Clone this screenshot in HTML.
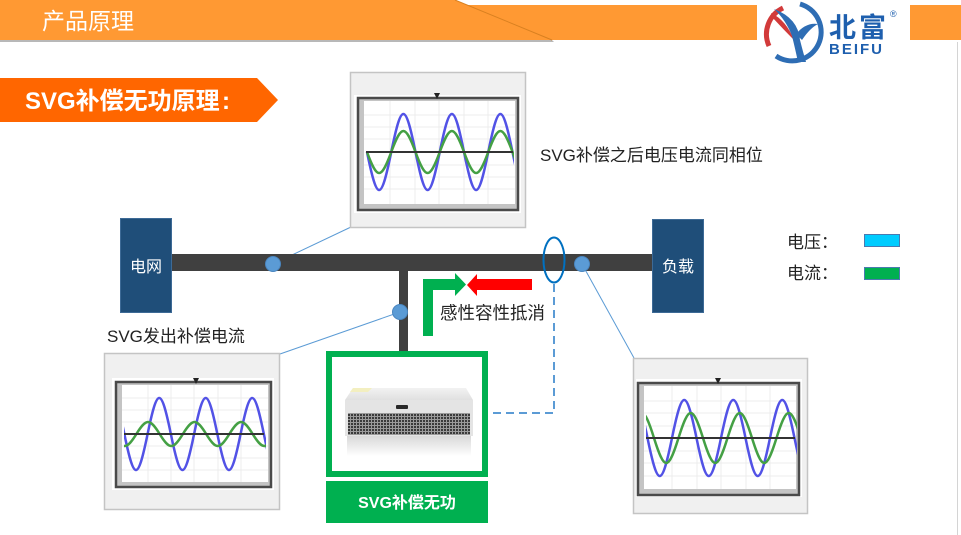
<!DOCTYPE html>
<html><head><meta charset="utf-8">
<style>
html,body{margin:0;padding:0;background:#fff;}
body{width:961px;height:535px;overflow:hidden;position:relative;}
svg{position:absolute;left:0;top:0;}
text{font-family:"Liberation Sans","Noto Sans CJK SC",sans-serif;}
</style></head>
<body>
<svg width="961" height="535" viewBox="0 0 961 535" xmlns="http://www.w3.org/2000/svg">
<defs>
  <clipPath id="c1"><rect x="365" y="96" width="149" height="116"/></clipPath>
  <clipPath id="c2"><rect x="124" y="382" width="142" height="104"/></clipPath>
  <clipPath id="c3"><rect x="646" y="384" width="151" height="110"/></clipPath>
  <pattern id="mesh" width="3" height="3" patternUnits="userSpaceOnUse">
    <rect width="3" height="3" fill="#9a9a9a"/>
    <rect width="2" height="2" fill="#3a3a3a"/>
  </pattern>
  <linearGradient id="refl" x1="0" y1="0" x2="0" y2="1">
    <stop offset="0" stop-color="#d8d8d8"/>
    <stop offset="1" stop-color="#ffffff"/>
  </linearGradient>
  <linearGradient id="topface" x1="0" y1="0" x2="0" y2="1">
    <stop offset="0" stop-color="#f2f2f2"/>
    <stop offset="1" stop-color="#e0e0e0"/>
  </linearGradient>
</defs>

<!-- header bands -->
<rect x="455" y="5" width="506" height="35" fill="#FF9933"/>
<polygon points="0,40 552,40 554,42 0,42" fill="#b8b8b8"/>
<polygon points="0,0 455,0 552,40 0,40" fill="#FF9933"/>
<line x1="455" y1="0" x2="552" y2="40" stroke="#d98020" stroke-width="1"/>
<text x="42" y="29" font-size="23" fill="#ffffff">产品原理</text>

<!-- logo -->
<rect x="757" y="0" width="153" height="72" fill="#ffffff"/>
<path d="M800,4 A29,29 0 1 1 776,56" fill="none" stroke="#2e6db4" stroke-width="5"/>
<path d="M783,8 A29,29 0 0 0 769,46" fill="none" stroke="#d23a3a" stroke-width="5"/>
<path d="M771,13 Q786,20 794,40 Q784,30 772,17 Z" fill="#d23a3a"/>
<path d="M774,9 Q798,18 800,40 Q803,52 806,62 L798,62 Q795,48 792,36 Q786,20 774,9 Z" fill="#2e6db4"/>
<path d="M796,34 Q806,22 818,24 Q810,28 802,40 Z" fill="#2e6db4"/>
<text x="829" y="37" font-size="27" font-weight="bold" fill="#1e5fae" letter-spacing="3">北富</text>
<text x="829" y="54" font-size="15" font-weight="bold" fill="#1e5fae" letter-spacing="2">BEIFU</text>
<text x="890" y="17" font-size="9" fill="#1e5fae">®</text>

<!-- right edge line -->
<line x1="957.5" y1="42" x2="957.5" y2="535" stroke="#d4d4d4" stroke-width="1"/>

<!-- subtitle banner -->
<polygon points="0,78 257,78 278,100 257,122 0,122" fill="#FF6600"/>
<text x="25" y="109" font-size="24" font-weight="bold" fill="#ffffff">SVG补偿无功原理</text>
<text x="222" y="109" font-size="24" font-weight="bold" fill="#ffffff">:</text>

<!-- connectors -->
<line x1="273" y1="264" x2="351" y2="227" stroke="#5B9BD5" stroke-width="1"/>
<line x1="400" y1="312" x2="280" y2="354" stroke="#5B9BD5" stroke-width="1"/>
<line x1="582" y1="264" x2="634" y2="358" stroke="#5B9BD5" stroke-width="1"/>

<!-- ===== top chart ===== -->
<rect x="350.5" y="72.5" width="175" height="155" fill="#f0f0f0" stroke="#c4c4c4" stroke-width="1.5"/>
<rect x="354" y="95" width="167" height="118" fill="#ffffff"/>
<rect x="358" y="98" width="160" height="112" fill="#c4c4c4" stroke="#4a4a4a" stroke-width="2.5"/>
<rect x="364" y="101" width="151" height="103" fill="#ffffff"/>
<g stroke="#ececec" stroke-width="1">
  <line x1="390" y1="101" x2="390" y2="204"/><line x1="415" y1="101" x2="415" y2="204"/>
  <line x1="439" y1="101" x2="439" y2="204"/><line x1="464" y1="101" x2="464" y2="204"/>
  <line x1="488" y1="101" x2="488" y2="204"/>
  <line x1="364" y1="115" x2="515" y2="115"/><line x1="364" y1="127" x2="515" y2="127"/>
  <line x1="364" y1="139" x2="515" y2="139"/><line x1="364" y1="165" x2="515" y2="165"/>
  <line x1="364" y1="177" x2="515" y2="177"/><line x1="364" y1="189" x2="515" y2="189"/>
</g>
<polygon points="434,93 440,93 437,99" fill="#222"/>
<g clip-path="url(#c1)" fill="none" stroke-width="2.5">
  <path d="M367,152 C377.29,202.67 380.96,202.67 391.25,152 S405.21,101.33 415.5,152 S429.46,202.67 439.75,152 S453.71,101.33 464,152 S477.96,202.67 488.25,152 S502.21,101.33 512.5,152 S526.46,202.67 536.75,152" stroke="#5252e6"/>
  <path d="M367,152 C377.29,180 380.96,180 391.25,152 S405.21,124 415.5,152 S429.46,180 439.75,152 S453.71,124 464,152 S477.96,180 488.25,152 S502.21,124 512.5,152 S526.46,180 536.75,152" stroke="#44a044"/>
</g>
<line x1="366" y1="152" x2="513" y2="152" stroke="#333" stroke-width="2"/>

<!-- ===== left chart ===== -->
<rect x="104.5" y="353.5" width="175" height="156" fill="#f0f0f0" stroke="#c4c4c4" stroke-width="1.5"/>
<rect x="112" y="378" width="162" height="112" fill="#ffffff"/>
<rect x="116" y="382" width="155" height="105" fill="#c4c4c4" stroke="#4a4a4a" stroke-width="2.5"/>
<rect x="122" y="385" width="146" height="97" fill="#ffffff"/>
<g stroke="#ececec" stroke-width="1">
  <line x1="148" y1="385" x2="148" y2="482"/><line x1="171" y1="385" x2="171" y2="482"/>
  <line x1="194" y1="385" x2="194" y2="482"/><line x1="218" y1="385" x2="218" y2="482"/>
  <line x1="241" y1="385" x2="241" y2="482"/>
  <line x1="122" y1="398" x2="268" y2="398"/><line x1="122" y1="410" x2="268" y2="410"/>
  <line x1="122" y1="422" x2="268" y2="422"/><line x1="122" y1="446" x2="268" y2="446"/>
  <line x1="122" y1="458" x2="268" y2="458"/><line x1="122" y1="470" x2="268" y2="470"/>
</g>
<polygon points="193,378 199,378 196,384" fill="#222"/>
<g clip-path="url(#c2)" fill="none" stroke-width="2.5">
  <path d="M101.1,434 C110.97,386 114.48,386 124.35,434 S137.73,482 147.6,434 S160.98,386 170.85,434 S184.23,482 194.1,434 S207.48,386 217.35,434 S230.73,482 240.6,434 S253.98,386 263.85,434 S277.23,482 287.1,434" stroke="#5252e6"/>
  <path d="M89.9,434 C99.77,418 103.28,418 113.15,434 S126.53,450 136.4,434 S149.78,418 159.65,434 S173.03,450 182.9,434 S196.28,418 206.15,434 S219.53,450 229.4,434 S242.78,418 252.65,434 S266.03,450 275.9,434" stroke="#44a044"/>
</g>
<line x1="124" y1="434" x2="264" y2="434" stroke="#333" stroke-width="2"/>

<!-- ===== right chart ===== -->
<rect x="633.5" y="358.5" width="174" height="155" fill="#f0f0f0" stroke="#c4c4c4" stroke-width="1.5"/>
<rect x="636" y="379" width="166" height="118" fill="#ffffff"/>
<rect x="638" y="383" width="161" height="112" fill="#c4c4c4" stroke="#4a4a4a" stroke-width="2.5"/>
<rect x="644" y="386" width="152" height="103" fill="#ffffff"/>
<g stroke="#ececec" stroke-width="1">
  <line x1="672" y1="386" x2="672" y2="489"/><line x1="697" y1="386" x2="697" y2="489"/>
  <line x1="721" y1="386" x2="721" y2="489"/><line x1="746" y1="386" x2="746" y2="489"/>
  <line x1="770" y1="386" x2="770" y2="489"/>
  <line x1="644" y1="401" x2="796" y2="401"/><line x1="644" y1="413" x2="796" y2="413"/>
  <line x1="644" y1="426" x2="796" y2="426"/><line x1="644" y1="451" x2="796" y2="451"/>
  <line x1="644" y1="463" x2="796" y2="463"/><line x1="644" y1="476" x2="796" y2="476"/>
</g>
<polygon points="715,378 721,378 718,384" fill="#222"/>
<g clip-path="url(#c3)" fill="none" stroke-width="2.5">
  <path d="M623,438 C633.4,387.33 637.1,387.33 647.5,438 S661.6,488.67 672,438 S686.1,387.33 696.5,438 S710.6,488.67 721,438 S735.1,387.33 745.5,438 S759.6,488.67 770,438 S784.1,387.33 794.5,438 S808.6,488.67 819,438" stroke="#5252e6"/>
  <path d="M629.5,438 C639.9,404.67 643.6,404.67 654,438 S668.1,471.33 678.5,438 S692.6,404.67 703,438 S717.1,471.33 727.5,438 S741.6,404.67 752,438 S766.1,471.33 776.5,438 S790.6,404.67 801,438 S815.1,471.33 825.5,438" stroke="#44a044"/>
</g>
<line x1="646" y1="438" x2="795" y2="438" stroke="#333" stroke-width="2"/>

<!-- bus -->
<rect x="170" y="254" width="484" height="17" fill="#404040"/>
<rect x="399" y="265" width="9" height="89" fill="#404040"/>

<!-- grid / load boxes -->
<rect x="120.5" y="218.5" width="51" height="94" fill="#1F4E79" stroke="#3d6a96" stroke-width="1"/>
<text x="146" y="272" font-size="16" fill="#ffffff" text-anchor="middle">电网</text>
<rect x="652.5" y="219.5" width="51" height="93" fill="#1F4E79" stroke="#3d6a96" stroke-width="1"/>
<text x="678" y="272" font-size="16" fill="#ffffff" text-anchor="middle">负载</text>

<!-- dots -->
<circle cx="273" cy="264" r="7.5" fill="#5B9BD5" stroke="#4a86c0" stroke-width="1"/>
<circle cx="400" cy="312" r="7.5" fill="#5B9BD5" stroke="#4a86c0" stroke-width="1"/>
<circle cx="582" cy="264" r="7.5" fill="#5B9BD5" stroke="#4a86c0" stroke-width="1"/>

<!-- ellipse + dashed -->
<ellipse cx="554" cy="260" rx="10.5" ry="22.5" fill="none" stroke="#0070C0" stroke-width="2"/>
<polyline points="554,284 554,413 487,413" fill="none" stroke="#5B9BD5" stroke-width="2" stroke-dasharray="8,5"/>

<!-- arrows -->
<polygon points="423,336 433,336 433,290 455,290 455,296 466,284.5 455,273 455,279 423,279" fill="#00B050"/>
<polygon points="532,279 477,279 477,274 467,285 477,296 477,290 532,290" fill="#FF0000"/>

<!-- device box -->
<rect x="329" y="354" width="156" height="120" fill="#ffffff" stroke="#00B050" stroke-width="6"/>
<rect x="347" y="436" width="124" height="20" fill="url(#refl)"/>
<polygon points="353,388 466,388 473,400 345,400" fill="url(#topface)"/>
<polygon points="353,388 372,388 368,392 350,392" fill="#f3efc0"/>
<rect x="345" y="400" width="128" height="36" fill="#e4e4e4"/>
<rect x="348" y="413" width="122" height="22" fill="url(#mesh)"/>
<rect x="396" y="405" width="12" height="4" rx="1" fill="#2a2a2a"/>
<rect x="326" y="481" width="162" height="42" fill="#00B050"/>
<text x="407" y="508" font-size="16" font-weight="bold" fill="#ffffff" text-anchor="middle">SVG补偿无功</text>

<!-- labels -->
<text x="540" y="161" font-size="17" fill="#222">SVG补偿之后电压电流同相位</text>
<text x="107" y="342" font-size="17" fill="#222">SVG发出补偿电流</text>
<text x="440" y="319" font-size="17.5" fill="#222">感性容性抵消</text>

<!-- legend -->
<text x="787" y="248" font-size="17" fill="#222">电压：</text>
<text x="787" y="279" font-size="17" fill="#222">电流：</text>
<rect x="864.5" y="234.5" width="35" height="12" fill="#00CCFF" stroke="#4a7ab0" stroke-width="1"/>
<rect x="864.5" y="267.5" width="35" height="12" fill="#00B050" stroke="#4a7ab0" stroke-width="1"/>
</svg>
</body></html>
